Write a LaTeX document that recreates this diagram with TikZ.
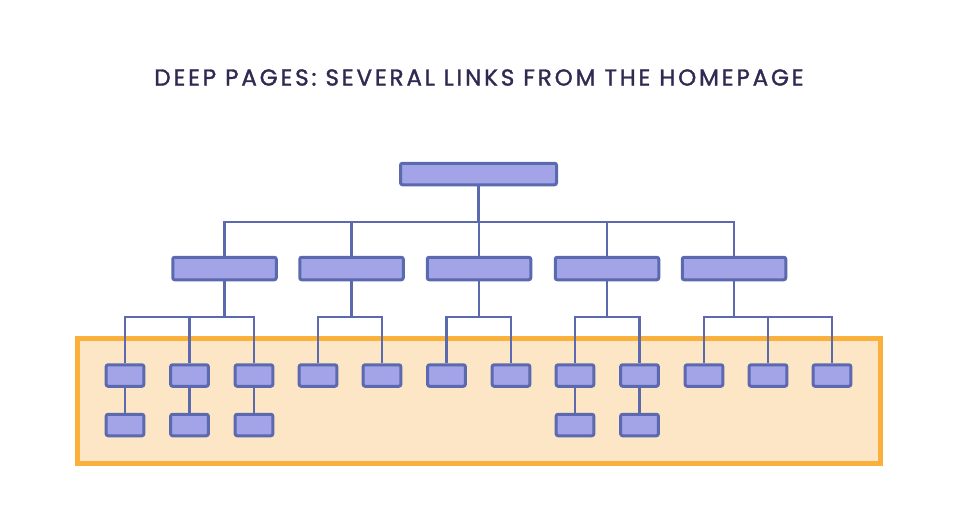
\documentclass[tikz,border=0pt]{standalone}
\usepackage{fontspec}
\newfontfamily\titlefont[LetterSpace=12.5,FakeBold=1.5]{Poppins}
\definecolor{boxfill}{HTML}{A3A3E8}
\definecolor{boxline}{HTML}{5B6AAE}
\definecolor{zoneline}{HTML}{FBB03B}
\definecolor{zonefill}{HTML}{FDE6C6}
\definecolor{titlecol}{HTML}{2E2A52}
\tikzset{
  pagebox/.style={draw=boxline, fill=boxfill, line width=3pt, rounded corners=2pt, inner sep=0pt},
  topbox/.style={pagebox, minimum width=156pt, minimum height=21.5pt},
  midbox/.style={pagebox, minimum width=103.5pt, minimum height=22.5pt},
  leafbox/.style={pagebox, minimum width=37.7pt, minimum height=21.5pt},
  link/.style={draw=boxline, line width=2.8pt},
}
\begin{document}
\begin{tikzpicture}[x=1pt,y=-1pt]
\useasboundingbox (0,0) rectangle (960,528);
\node[font=\titlefont\fontsize{23}{25}\selectfont, text=titlecol, inner sep=0pt] (title) at (479,77.5) {DEEP PAGES: SEVERAL LINKS FROM THE HOMEPAGE};
% zone
\draw[draw=zoneline, fill=zonefill, line width=5pt] (77.5,338.5) rectangle (880.5,463.5);
% nodes
\node[topbox] (top) at (478.5,174) {};
\foreach \n/\x in {a/224.5,b/351.5,c/479,d/607,e/734}
  \node[midbox] (m\n) at (\x,268.5) {};
\foreach \i/\x in {1/125,2/189.5,3/254,4/318,5/382,6/446.5,7/511,8/575,9/639.5,10/704,11/768,12/832}
  \node[leafbox] (l\i) at (\x,375.5) {};
\foreach \i/\x in {1/125,2/189.5,3/254,8/575,9/639.5}
  \node[leafbox] (d\i) at (\x,425) {};
\coordinate (bus1) at (0,222);
\coordinate (bus2) at (0,317);
% level 1 connectors
\draw[link] (top.south) -- (top|-bus1);
\draw[link] (ma.north) -- (ma|-bus1) -- (me|-bus1) -- (me.north);
\foreach \n in {b,c,d} \draw[link] (m\n.north) -- (m\n|-bus1);
% level 2 connectors
\draw[link] (l1.north) -- (l1|-bus2) -- (l3|-bus2) -- (l3.north);
\draw[link] (l2.north) -- (l2|-bus2);
\draw[link] (ma.south) -- (ma|-bus2);
\draw[link] (l4.north) -- (l4|-bus2) -- (l5|-bus2) -- (l5.north);
\draw[link] (mb.south) -- (mb|-bus2);
\draw[link] (l6.north) -- (l6|-bus2) -- (l7|-bus2) -- (l7.north);
\draw[link] (mc.south) -- (mc|-bus2);
\draw[link] (l8.north) -- (l8|-bus2) -- (l9|-bus2) -- (l9.north);
\draw[link] (md.south) -- (md|-bus2);
\draw[link] (l10.north) -- (l10|-bus2) -- (l12|-bus2) -- (l12.north);
\draw[link] (l11.north) -- (l11|-bus2);
\draw[link] (me.south) -- (me|-bus2);
% level 3 connectors
\foreach \i in {1,2,3,8,9} \draw[link] (l\i.south) -- (d\i.north);
\end{tikzpicture}
\end{document}
